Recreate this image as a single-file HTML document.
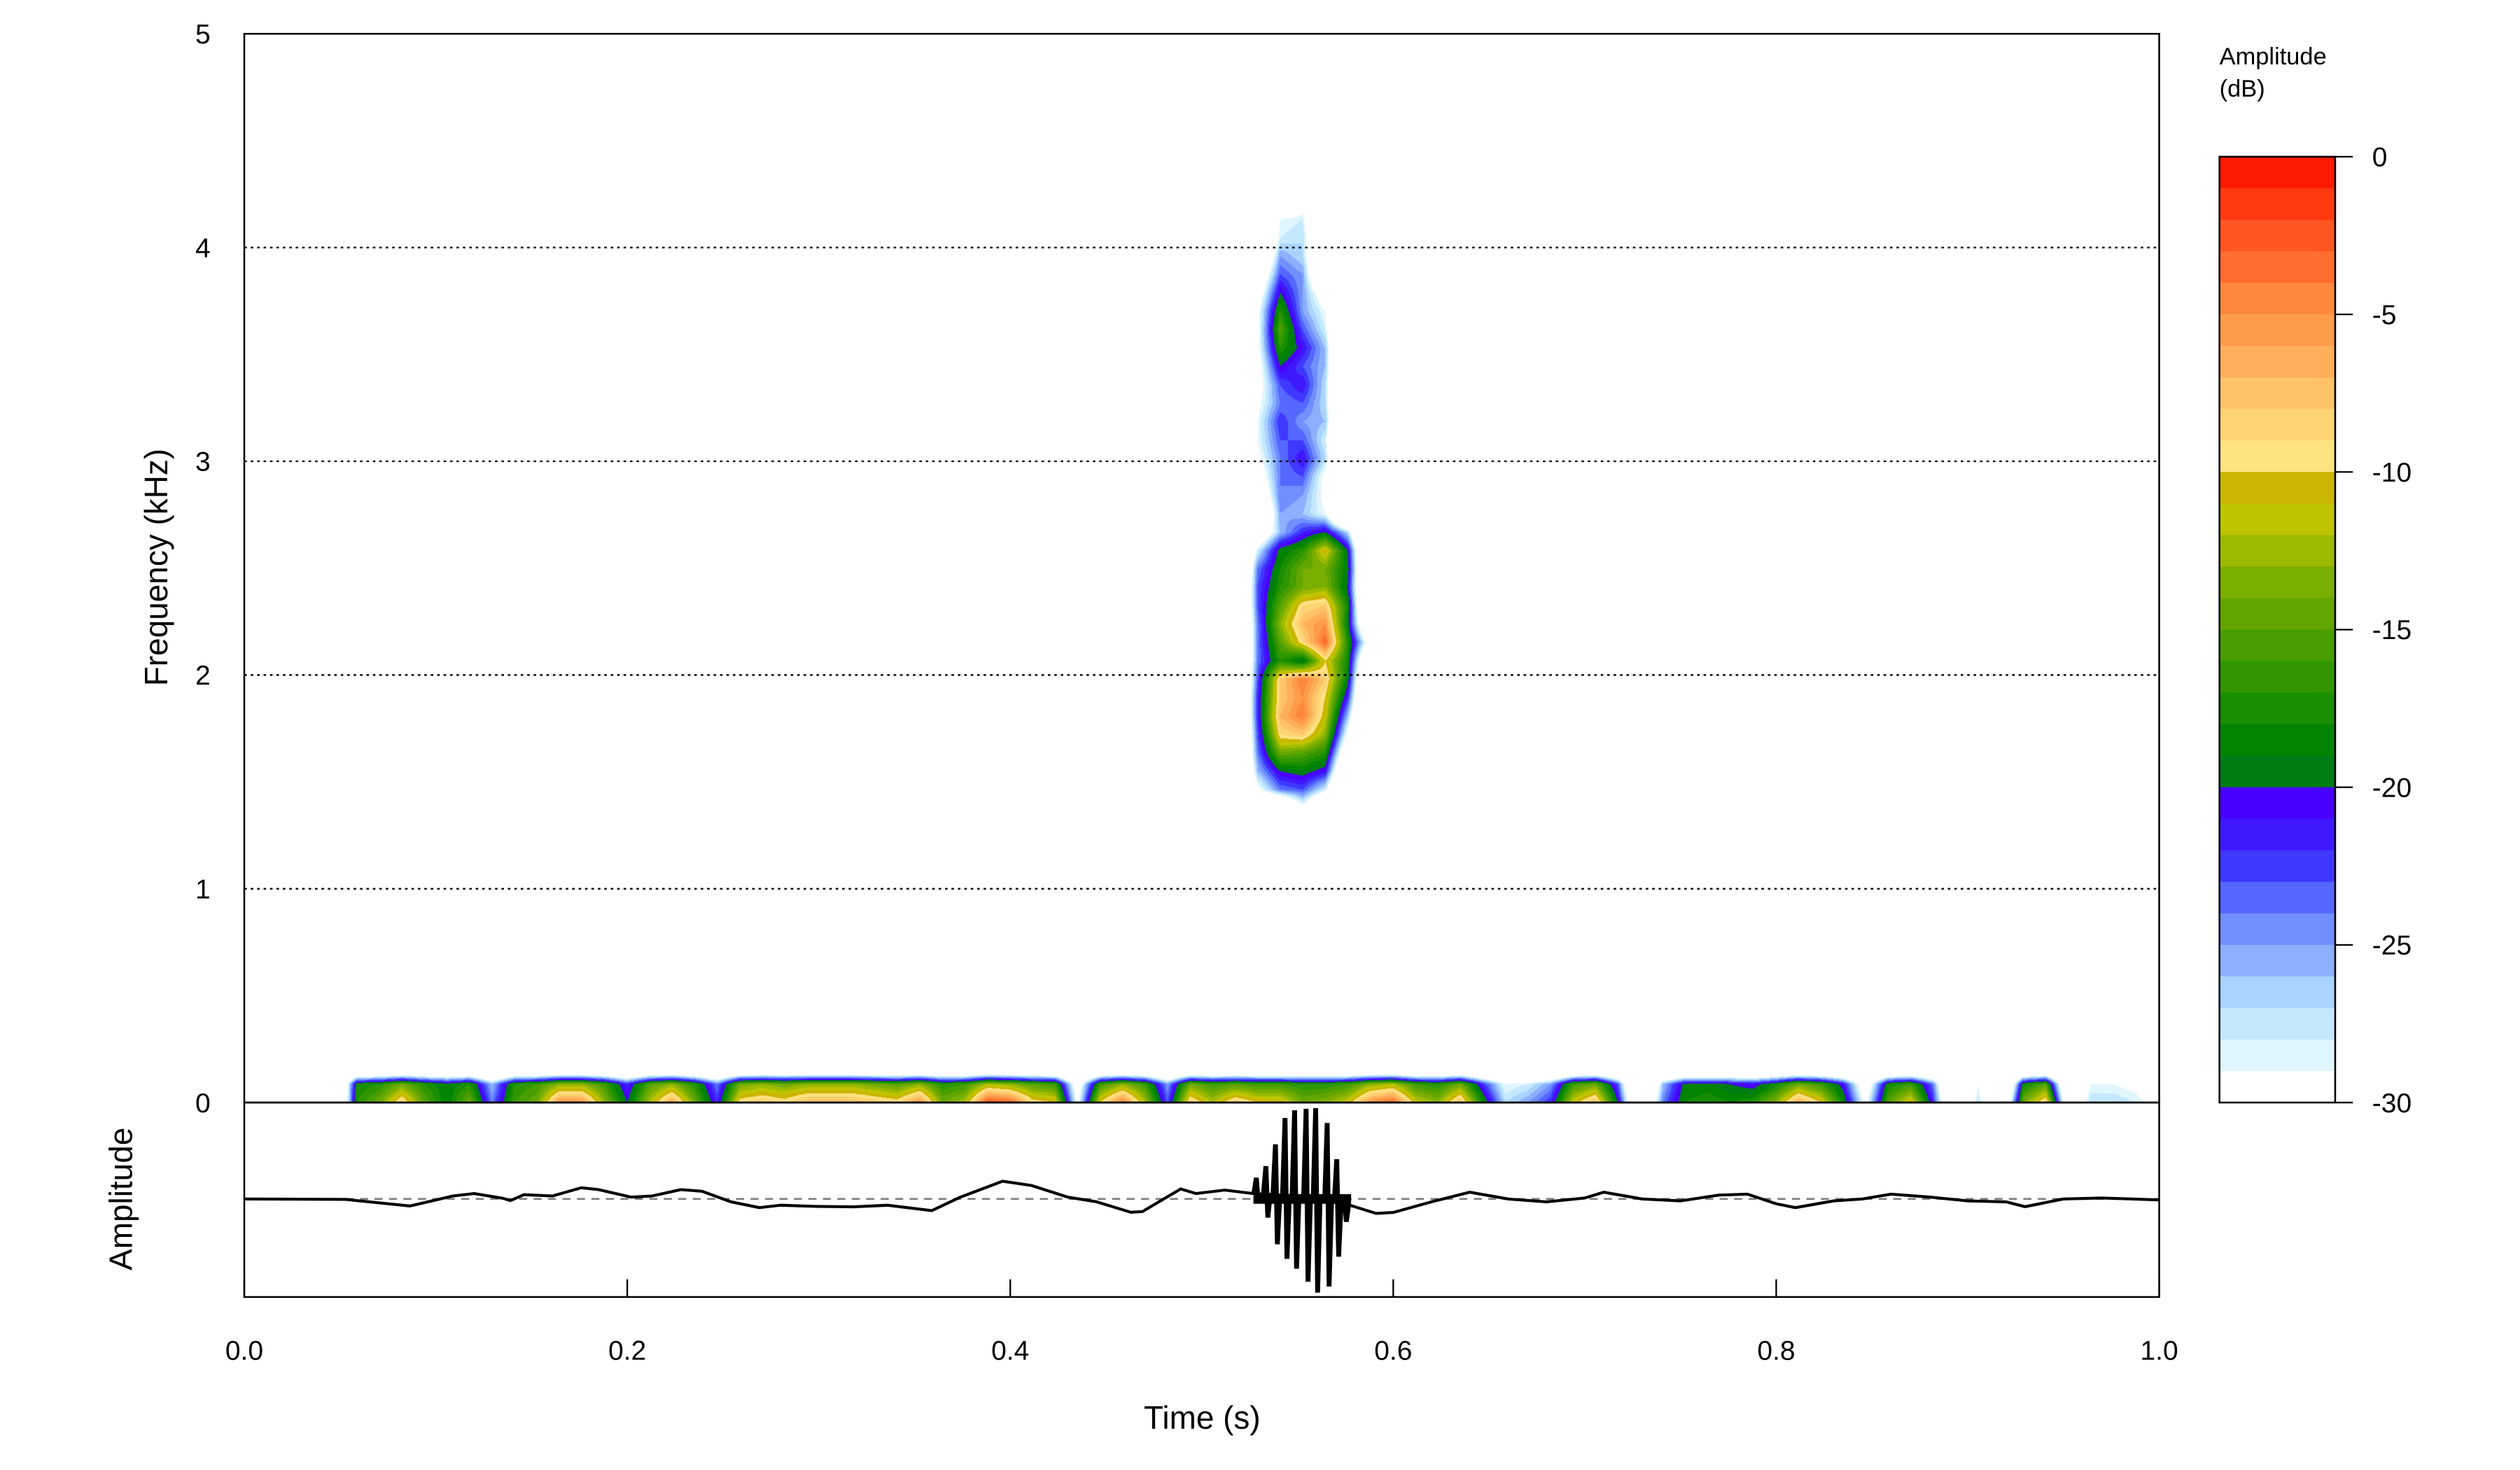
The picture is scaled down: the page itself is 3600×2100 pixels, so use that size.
<!DOCTYPE html>
<html><head><meta charset="utf-8"><style>
html,body{margin:0;padding:0;background:#fff;}
#wrap{position:relative;width:3600px;height:2100px;overflow:hidden;background:#fff;}
#spec{position:absolute;left:0;top:0;}
#svg{position:absolute;left:0;top:0;}
text{font-family:"Liberation Sans",Arial,sans-serif;fill:#000;}
</style></head><body>
<div id="wrap">
<canvas id="spec" width="3600" height="2100"></canvas>
<svg id="svg" width="3600" height="2100" viewBox="0 0 1568 914.63" xmlns="http://www.w3.org/2000/svg">
  <g id="grid"></g>
  <g id="osc"></g>
  <rect x="152" y="21" width="1191.5" height="665" fill="none" stroke="#000" stroke-width="1.1"/>
  <rect x="152" y="686" width="1191.5" height="121" fill="none" stroke="#000" stroke-width="1.1"/>
  <g id="yticks"></g>
  <g id="xticks"></g>
  <text x="0" y="0" transform="translate(104,353) rotate(-90)" text-anchor="middle" font-size="20">Frequency (kHz)</text>
  <text x="0" y="0" transform="translate(82,746) rotate(-90)" text-anchor="middle" font-size="20">Amplitude</text>
  <text x="748" y="889" text-anchor="middle" font-size="20">Time (s)</text>
  <g id="cbar"></g>
  <text x="1381" y="40" font-size="15">Amplitude</text>
  <text x="1381" y="60" font-size="15">(dB)</text>
</svg>
</div>
<script>
// ---------- data ----------
const timeStep = 0.01176;     // s per spectrogram column
const freqStep = 0.0861;      // kHz per spectrogram row
const levelColors = ["#FF1A00","#FF3A10","#FF5520","#FF6E2E","#FF883C","#FF9C4A","#FFAE5A","#FFC266","#FFD474","#FFE282",
 "#CBB500","#BEC500","#9CBA00","#7AAE00","#62A600","#489E00","#309600","#188E00","#028400","#007C14",
 "#4800FF","#4018FF","#4038FF","#5468FF","#7090FF","#8CB0FF","#A8D4FF","#C4E8FF","#E0F6FF","#FFFFFF"];
const cbarTicks = [0,-5,-10,-15,-20,-25,-30];
const freqTicks = [0,1,2,3,4,5];
const gridFreqs = [1,2,3,4];
const timeTicks = [0.0,0.2,0.4,0.6,0.8,1.0];
const timeTickLabels = ["0.0","0.2","0.4","0.6","0.8","1.0"];
// low band, row f=0
const lowRow0 = [-45,-45,-45,-45,-45,
 -17,-14,-8,-15,-19,-14,-24,-16,-14,-5,-5,-13,-20,-12,-6,-14,-22,-9,-8,-9,-7,-7,-7,-8,-9,-5,-14,-12,-2,-3,-9,-10,-30,-10,-4,-12,-23,-8,-12,-8,
 -10,-10,-14,-13,-11,-5,-3,-11,-13,-7,-18,-27,-25,-22,-11,-7,-20,-40,-24,-18,-17,-18,-17,-13,-6,-10,-18,-30,-15,-10,-22,-40,-27,-40,-14,-8,-35,-27,-27,-28,-31];
// low band, row f=0.086
const lowRow1 = [-45,-45,-45,-45,-45,
 -18,-17,-14,-17,-19,-17,-26,-17,-16,-13,-13,-16,-22,-15,-13,-17,-24,-14,-13,-14,-13,-13,-13,-14,-15,-13,-17,-16,-12,-13,-15,-16,-32,-16,-13,-16,-25,-14,-16,-15,
 -16,-16,-17,-17,-16,-13,-12,-16,-17,-14,-22,-29,-28,-25,-16,-14,-23,-45,-26,-19,-19,-20,-21,-18,-14,-16,-21,-33,-18,-16,-24,-45,-29,-45,-18,-15,-38,-29,-29,-30,-33];
// vocalisation: rows j=15..51, columns k=45..50
const vocFirstRow = 15, vocFirstCol = 45;
const voc = [
[-45,-45,-45,-45,-45,-45],
[-40,-40,-30,-40,-45,-45],
[-30,-24,-23,-28,-45,-45],
[-26,-20,-19,-21,-40,-45],
[-24,-14,-15,-17,-35,-45],
[-23,-9,-8,-13,-30,-45],
[-22,-7,-4,-11,-26,-45],
[-22,-8,-5,-10,-22,-45],
[-23,-8,-4,-8,-19,-45],
[-24,-17,-20,-10,-18,-40],
[-24,-15,-9,-3,-17,-32],
[-24,-13,-7,-5,-19,-40],
[-23,-15,-9,-8,-18,-45],
[-23,-17,-14,-13,-20,-45],
[-24,-18,-14,-14,-19,-45],
[-28,-19,-17,-10,-20,-45],
[-35,-26,-22,-20,-27,-45],
[-40,-25,-26,-29,-45,-45],
[-35,-24,-25,-30,-45,-45],
[-32,-24,-23,-30,-45,-45],
[-30,-24,-21,-27,-45,-45],
[-29,-23,-23,-28,-45,-45],
[-29,-22,-25,-26,-45,-45],
[-30,-24,-23,-27,-45,-45],
[-31,-23,-21,-27,-45,-45],
[-31,-20,-23,-26,-45,-45],
[-30,-17,-21,-26,-45,-45],
[-30,-15,-23,-28,-45,-45],
[-30,-17,-25,-29,-45,-45],
[-32,-20,-25,-32,-45,-45],
[-35,-23,-25,-40,-45,-45],
[-40,-25,-27,-40,-45,-45],
[-45,-28,-27,-40,-45,-45],
[-45,-29,-28,-45,-45,-45],
[-45,-40,-31,-45,-45,-45],
[-45,-45,-29,-45,-45,-45],
[-45,-45,-45,-45,-45,-45]];
// oscillogram
const wanderT = [0,0.053,0.0865,0.109,0.120,0.135,0.139,0.146,0.161,0.176,0.185,0.202,0.213,0.228,0.239,0.254,0.269,0.280,0.299,0.318,0.336,0.359,0.374,0.396,0.411,0.430,0.445,0.463,0.469,0.489,0.497,0.512,0.527,0.552,0.575,0.591,0.60,0.62,0.64,0.66,0.68,0.70,0.71,0.73,0.75,0.77,0.785,0.80,0.81,0.83,0.845,0.86,0.88,0.90,0.92,0.93,0.95,0.97,1.0];
const wanderA = [0,-0.005,-0.073,0.031,0.056,0.007,-0.017,0.044,0.031,0.116,0.097,0.019,0.031,0.097,0.080,-0.029,-0.090,-0.065,-0.077,-0.082,-0.065,-0.121,0.019,0.184,0.140,0.019,-0.029,-0.138,-0.131,0.104,0.056,0.092,0.056,0.03,-0.05,-0.15,-0.14,-0.03,0.07,0.0,-0.03,0.01,0.07,0.0,-0.02,0.04,0.05,-0.05,-0.09,-0.02,0.0,0.05,0.02,-0.02,-0.03,-0.08,0.0,0.01,-0.01];
const pulseT = [0.529,0.534,0.539,0.544,0.549,0.555,0.560,0.566,0.571,0.575];
const pulseUp = [0.165,0.291,0.523,0.801,0.886,0.915,0.939,0.806,0.448,0.068];
const pulseDown = [0.082,0.242,0.513,0.659,0.756,0.877,0.973,0.889,0.562,0.186];

// ---------- axes ----------
const L=152, R=1343.5, T=21, B=686, OB=807, OC=746, OH=60;
const xS = t => L + t*(R-L);
const yS = f => B - f*133;
const yO = a => OC - a*OH;
const K = 3600/1568;
const NS="http://www.w3.org/2000/svg";
function mk(tag, attrs, parent){const e=document.createElementNS(NS,tag);for(const k in attrs)e.setAttribute(k,attrs[k]);parent.appendChild(e);return e;}

const grid=document.getElementById('grid');
gridFreqs.forEach(f=>{
  const l=mk('line',{x1:L,x2:R,y1:yS(f),y2:yS(f),stroke:'#000','stroke-width':1,'stroke-dasharray':'1.6,2.4'},grid);
  
  
});
const yt=document.getElementById('yticks');
freqTicks.forEach(f=>{
  const tx=mk('text',{x:131,y:yS(f)+6,'text-anchor':'end','font-size':17},yt);
  tx.textContent=String(f);
  
  
});
const xt=document.getElementById('xticks');
timeTicks.forEach((t,i)=>{
  const ln=mk('line',{x1:xS(t),x2:xS(t),y1:OB,y2:OB-11,stroke:'#000','stroke-width':1},xt);
  
  
  const tx=mk('text',{x:xS(t),y:846,'text-anchor':'middle','font-size':17},xt);
  tx.textContent=timeTickLabels[i];
  
  
});
const cb=document.getElementById('cbar');
const CX=1381, CW=72, CT=97.5, CB=686;
const cbY = v => CT + (-v)/30*(CB-CT);
levelColors.forEach((c,i)=>{
  const r=mk('rect',{x:CX,y:cbY(-i),width:CW,height:(CB-CT)/30+0.3,fill:c},cb);
  
  
});
mk('rect',{x:CX,y:CT,width:CW,height:CB-CT,fill:'none',stroke:'#000','stroke-width':1.1},cb);
cbarTicks.forEach(v=>{
  const ln=mk('line',{x1:CX+CW,x2:CX+CW+11,y1:cbY(v),y2:cbY(v),stroke:'#000','stroke-width':1},cb);
  
  
  const tx=mk('text',{x:1476,y:cbY(v)+6,'font-size':17},cb);
  tx.textContent=String(v);
  
  
});

const osc=document.getElementById('osc');
const mid=mk('line',{x1:L,x2:R,y1:OC,y2:OC,stroke:'#808080','stroke-width':1.2,'stroke-dasharray':'5,4'},osc);


function wander(t){
  for(let i=1;i<wanderT.length;i++){ if(t<=wanderT[i]){const a=(t-wanderT[i-1])/(wanderT[i]-wanderT[i-1]);return wanderA[i-1]+a*(wanderA[i]-wanderA[i-1]);} }
  return wanderA[wanderA.length-1];
}
let d='M'+xS(wanderT[0])+','+yO(wanderA[0]);
wanderT.forEach((t,i)=>{ if(i>0) d+=' L'+xS(t).toFixed(2)+','+yO(wanderA[i]).toFixed(2); });
const wl=mk('path',{d:d,fill:'none',stroke:'#000','stroke-width':1.8,'stroke-linejoin':'round'},osc);


let pd='';
pulseT.forEach((t,i)=>{
  const b=wander(t);
  pd+='M'+xS(t-0.0018).toFixed(2)+','+yO(b).toFixed(2)+' L'+xS(t-0.0005).toFixed(2)+','+yO(b+pulseUp[i]).toFixed(2)+' L'+xS(t+0.0005).toFixed(2)+','+yO(b-pulseDown[i]).toFixed(2)+' L'+xS(t+0.0018).toFixed(2)+','+yO(b).toFixed(2)+' ';
});
const pl=mk('path',{d:pd,fill:'none',stroke:'#000','stroke-width':3,'stroke-linejoin':'miter'},osc);


const core=mk('rect',{x:xS(0.527),y:OC-3,width:xS(0.578)-xS(0.527),height:6,fill:'#000'},osc);



function getVal(k,j){
  if(k<0||k>=lowRow0.length||j<0) return -45;
  if(j===0) return lowRow0[k];
  if(j===1) return lowRow1[k];
  const r=j-vocFirstRow, c=k-vocFirstCol;
  if(r>=0&&r<voc.length&&c>=0&&c<voc[0].length) return voc[r][c];
  return -45;
}
const rgb=levelColors.map(h=>[parseInt(h.substr(1,2),16),parseInt(h.substr(3,2),16),parseInt(h.substr(5,2),16)]);
const cv=document.getElementById('spec');
const ctx=cv.getContext('2d');
const px0=Math.ceil(L*K), px1=Math.floor(R*K), py0=Math.ceil(T*K), py1=Math.floor(B*K);
const W=px1-px0, H=py1-py0;
const img=ctx.createImageData(W,H);
for(let y=0;y<H;y++){
  const f=(B-(y+py0+0.5)/K)/133;
  if(f<0) continue;
  const jf=f/freqStep, j0=Math.floor(jf), fy=jf-j0;
  for(let x=0;x<W;x++){
    const t=((x+px0+0.5)/K-L)/(R-L);
    const kf=t/timeStep, k0=Math.floor(kf), fx=kf-k0;
    const v00=getVal(k0,j0), v10=getVal(k0+1,j0), v01=getVal(k0,j0+1), v11=getVal(k0+1,j0+1);
    if(v00<-30&&v10<-30&&v01<-30&&v11<-30) continue;
    const v=(v00*(1-fx)+v10*fx)*(1-fy)+(v01*(1-fx)+v11*fx)*fy;
    if(v<-29) continue;
    let idx=Math.floor(-v); if(idx<0) idx=0; if(idx>29) idx=29;
    const c=rgb[idx], o=(y*W+x)*4;
    img.data[o]=c[0]; img.data[o+1]=c[1]; img.data[o+2]=c[2]; img.data[o+3]=255;
  }
}
ctx.putImageData(img,px0,py0);
</script>
</body></html>
